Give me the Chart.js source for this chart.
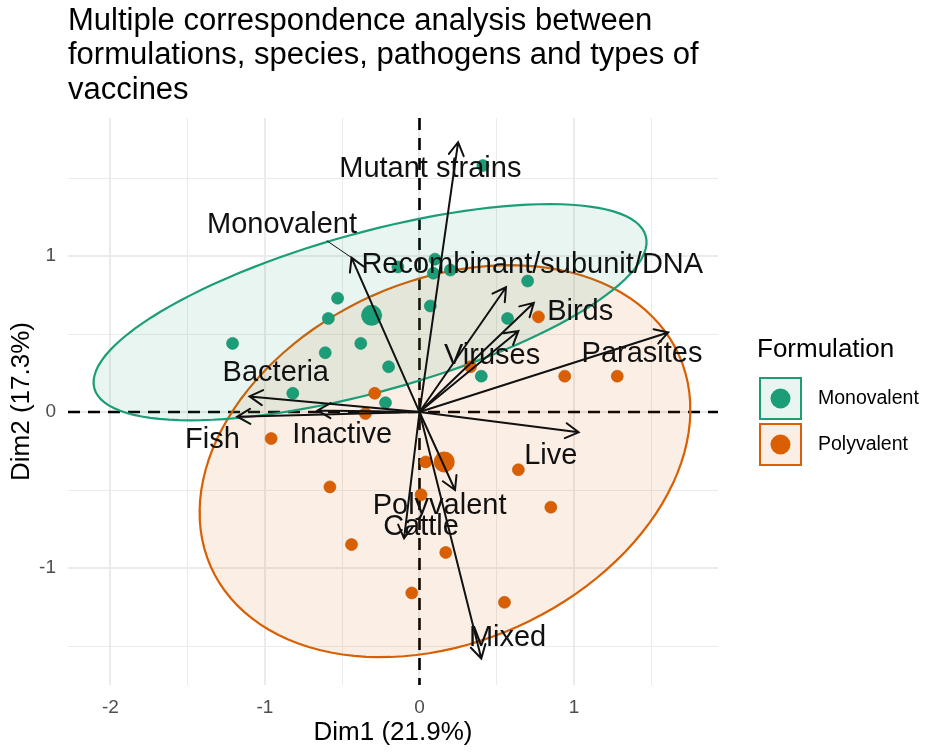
<!DOCTYPE html>
<html>
<head>
<meta charset="utf-8">
<script src="https://cdn.jsdelivr.net/npm/chart.js@4"></script>
<style>
  body { margin: 0; background: #fff; }
  #wrap { width: 935px; height: 756px; }
</style>
</head>
<body>
<div id="wrap"><canvas id="mca" width="935" height="756"></canvas></div>
<script>
// individuals (Dim1 / Dim2) by formulation group
const groups = ['Monovalent', 'Polyvalent'];
const monoX = [0.41, -1.21, -0.53, -0.59, -0.38, -0.61, -0.20, -0.82, -0.22, 0.07, -0.14, 0.10, 0.09, 0.20, 0.70, 0.57, 0.40];
const monoY = [1.58, 0.44, 0.73, 0.60, 0.44, 0.38, 0.29, 0.12, 0.06, 0.68, 0.93, 0.98, 0.89, 0.91, 0.84, 0.60, 0.23];
const polyX = [-0.96, 0.04, 0.64, -0.58, 0.01, 0.85, -0.44, 0.17, -0.05, 0.55, -0.35, -0.29, 0.33, 0.77, 0.94, 1.28];
const polyY = [-0.17, -0.32, -0.37, -0.48, -0.53, -0.61, -0.85, -0.90, -1.16, -1.22, -0.01, 0.12, 0.29, 0.61, 0.23, 0.23];
// group means
const meanX = [-0.31, 0.16];
const meanY = [0.62, -0.32];
// concentration ellipses: centre x, centre y, semi-major, semi-minor, angle (deg)
const monoEllipse = [-0.32, 0.64, 1.85, 0.51, 15.3];
const polyEllipse = [0.165, -0.315, 1.66, 1.16, 24];

// variable categories (arrows)
const varNames = ['Mutant strains', 'Monovalent', 'Recombinant/subunit/DNA', 'Birds', 'Viruses', 'Parasites',
  'Bacteria', 'Fish', 'Inactive', 'Live', 'Polyvalent', 'Cattle', 'Mixed'];
const varX = [0.25, -0.44, 0.56, 0.74, 0.64, 1.61, -1.10, -1.18, -0.66, 1.03, 0.23, -0.10, 0.40];
const varY = [1.73, 0.99, 0.80, 0.70, 0.52, 0.51, 0.10, -0.03, 0.01, -0.13, -0.50, -0.81, -1.58];

const xTicks = [-2, -1, 0, 1];
const yTicks = [-1, 0, 1];

// where the repelled labels ended up (data units)
const labelAt = [[0.07, 1.56], [-0.89, 1.20], [0.73, 0.94], [1.04, 0.64], [0.47, 0.36], [1.44, 0.37],
  [-0.93, 0.25], [-1.34, -0.18], [-0.50, -0.15], [0.85, -0.28], [0.13, -0.60], [0.01, -0.74], [0.57, -1.45]];
const leaderFor = ['Monovalent'];

const GREEN = '#1B9E77', ORANGE = '#D95F02';
const FONT = "'Liberation Sans', Arial, Helvetica, sans-serif";

function ellipse(p) {
  const [cx, cy, a, b, deg] = p;
  const t = deg * Math.PI / 180, out = [];
  for (let i = 0; i <= 120; i++) {
    const u = i / 120 * 2 * Math.PI;
    const ex = a * Math.cos(u), ey = b * Math.sin(u);
    out.push({ x: cx + ex * Math.cos(t) - ey * Math.sin(t), y: cy + ex * Math.sin(t) + ey * Math.cos(t) });
  }
  return out;
}
const pts = (xs, ys) => xs.map((v, i) => ({ x: v, y: ys[i] }));

const overlay = {
  id: 'overlay',
  beforeDatasetsDraw(chart) {
    const { ctx, chartArea: a, scales: { x, y } } = chart;
    const x0 = x.getPixelForValue(0), y0 = y.getPixelForValue(0);
    ctx.save();
    ctx.strokeStyle = '#000';
    ctx.lineWidth = 2.6;
    ctx.setLineDash([12, 8]);
    ctx.beginPath();
    ctx.moveTo(a.left, y0); ctx.lineTo(a.right, y0);
    ctx.moveTo(x0, a.top); ctx.lineTo(x0, a.bottom);
    ctx.stroke();
    ctx.restore();
  },
  afterDatasetsDraw(chart) {
    const { ctx, scales: { x, y } } = chart;
    const ox = x.getPixelForValue(0), oy = y.getPixelForValue(0);
    ctx.save();
    ctx.strokeStyle = '#111';
    ctx.lineWidth = 2;
    ctx.lineCap = 'round';
    varNames.forEach((n, i) => {
      const tx = x.getPixelForValue(varX[i]), ty = y.getPixelForValue(varY[i]);
      const ang = Math.atan2(ty - oy, tx - ox), L = 15, w = Math.PI / 6;
      ctx.beginPath();
      ctx.moveTo(ox, oy); ctx.lineTo(tx, ty);
      ctx.moveTo(tx - L * Math.cos(ang - w), ty - L * Math.sin(ang - w));
      ctx.lineTo(tx, ty);
      ctx.lineTo(tx - L * Math.cos(ang + w), ty - L * Math.sin(ang + w));
      ctx.stroke();
    });
    // labels
    ctx.font = '29px ' + FONT;
    ctx.fillStyle = '#111';
    ctx.textAlign = 'center';
    ctx.textBaseline = 'middle';
    varNames.forEach((n, i) => {
      const lx = x.getPixelForValue(labelAt[i][0]), ly = y.getPixelForValue(labelAt[i][1]);
      if (leaderFor.includes(n)) {
        // segment from the bottom edge of the label to the arrow tip
        const tx = x.getPixelForValue(varX[i]), ty = y.getPixelForValue(varY[i]);
        const hw = ctx.measureText(n).width / 2;
        ctx.lineWidth = 1;
        ctx.beginPath();
        ctx.moveTo(lx + hw * 0.6, ly + 16);
        ctx.lineTo(tx, ty);
        ctx.stroke();
      }
      ctx.fillText(n, lx, ly);
    });
    ctx.restore();
  },
  afterDraw(chart) {
    const { ctx, chartArea: a } = chart;
    ctx.save();
    ctx.fillStyle = '#000';
    // title
    ctx.font = '31px ' + FONT;
    ctx.textAlign = 'left';
    ctx.textBaseline = 'alphabetic';
    ['Multiple correspondence analysis between',
     'formulations, species, pathogens and types of',
     'vaccines'].forEach((t, i) => ctx.fillText(t, 68, 29.5 + i * 34.5));
    // axis titles
    ctx.font = '26px ' + FONT;
    ctx.textAlign = 'center';
    ctx.textBaseline = 'middle';
    ctx.fillText('Dim1 (21.9%)', (a.left + a.right) / 2, 733);
    ctx.save();
    ctx.translate(22, (a.top + a.bottom) / 2);
    ctx.rotate(-Math.PI / 2);
    ctx.fillText('Dim2 (17.3%)', 0, 0);
    ctx.restore();
    // legend
    ctx.textAlign = 'left';
    ctx.fillText('Formulation', 757, 350);
    const cols = [GREEN, ORANGE], fills = ['rgba(27,158,119,0.1)', 'rgba(217,95,2,0.1)'];
    groups.forEach((g, i) => {
      const top = 377 + i * 46;
      ctx.fillStyle = '#fff';
      ctx.fillRect(759, top, 43, 43);
      ctx.fillStyle = fills[i];
      ctx.fillRect(759, top, 43, 43);
      ctx.strokeStyle = cols[i];
      ctx.lineWidth = 2;
      ctx.strokeRect(760, top + 1, 41, 41);
      ctx.fillStyle = cols[i];
      ctx.beginPath();
      ctx.arc(780.5, top + 21.5, 10, 0, 2 * Math.PI);
      ctx.fill();
      ctx.fillStyle = '#000';
      ctx.font = '19.5px ' + FONT;
      ctx.fillText(g, 818, top + 21.5);
    });
    ctx.restore();
  }
};

Chart.defaults.font.family = FONT;

new Chart(document.getElementById('mca'), {
  type: 'scatter',
  data: {
    datasets: [
      { label: 'Monovalent mean', data: pts([meanX[0]], [meanY[0]]), pointRadius: 10.5, backgroundColor: GREEN, borderColor: GREEN, borderWidth: 0 },
      { label: 'Polyvalent mean', data: pts([meanX[1]], [meanY[1]]), pointRadius: 10.5, backgroundColor: ORANGE, borderColor: ORANGE, borderWidth: 0 },
      { label: 'Monovalent', data: pts(monoX, monoY), pointRadius: 6, backgroundColor: GREEN, borderColor: '#178a68', borderWidth: 0.6 },
      { label: 'Polyvalent', data: pts(polyX, polyY), pointRadius: 6, backgroundColor: ORANGE, borderColor: '#c25402', borderWidth: 0.6 },
      { label: 'Monovalent ellipse', data: ellipse(monoEllipse), showLine: true, fill: 'shape', tension: 0,
        pointRadius: 0, borderColor: GREEN, borderWidth: 2.2, backgroundColor: 'rgba(27,158,119,0.1)' },
      { label: 'Polyvalent ellipse', data: ellipse(polyEllipse), showLine: true, fill: 'shape', tension: 0,
        pointRadius: 0, borderColor: ORANGE, borderWidth: 2.2, backgroundColor: 'rgba(217,95,2,0.1)' }
    ]
  },
  options: {
    responsive: false,
    animation: false,
    layout: { padding: { top: 118, right: 217, left: 0, bottom: 0 } },
    plugins: { legend: { display: false }, tooltip: { enabled: false } },
    scales: {
      x: {
        type: 'linear',
        min: -2.275, max: 1.932,
        afterFit: s => { s.height = 71; },
        border: { display: false },
        grid: {
          color: '#EBEBEB',
          lineWidth: c => xTicks.includes(c.tick.value) ? 2 : 1,
          drawTicks: false
        },
        ticks: {
          stepSize: 0.5, includeBounds: false, autoSkip: false, maxRotation: 0,
          padding: 11, color: '#4D4D4D', font: { size: 19 },
          callback: v => xTicks.includes(v) ? String(v) : ''
        }
      },
      y: {
        type: 'linear',
        min: -1.75, max: 1.885,
        afterFit: s => { s.width = 68; },
        border: { display: false },
        grid: {
          color: '#EBEBEB',
          lineWidth: c => yTicks.includes(c.tick.value) ? 2 : 1,
          drawTicks: false
        },
        ticks: {
          stepSize: 0.5, includeBounds: false, autoSkip: false,
          padding: 12, color: '#4D4D4D', font: { size: 19 },
          callback: v => yTicks.includes(v) ? String(v) : ''
        }
      }
    }
  },
  plugins: [overlay]
});
</script>
</body>
</html>
